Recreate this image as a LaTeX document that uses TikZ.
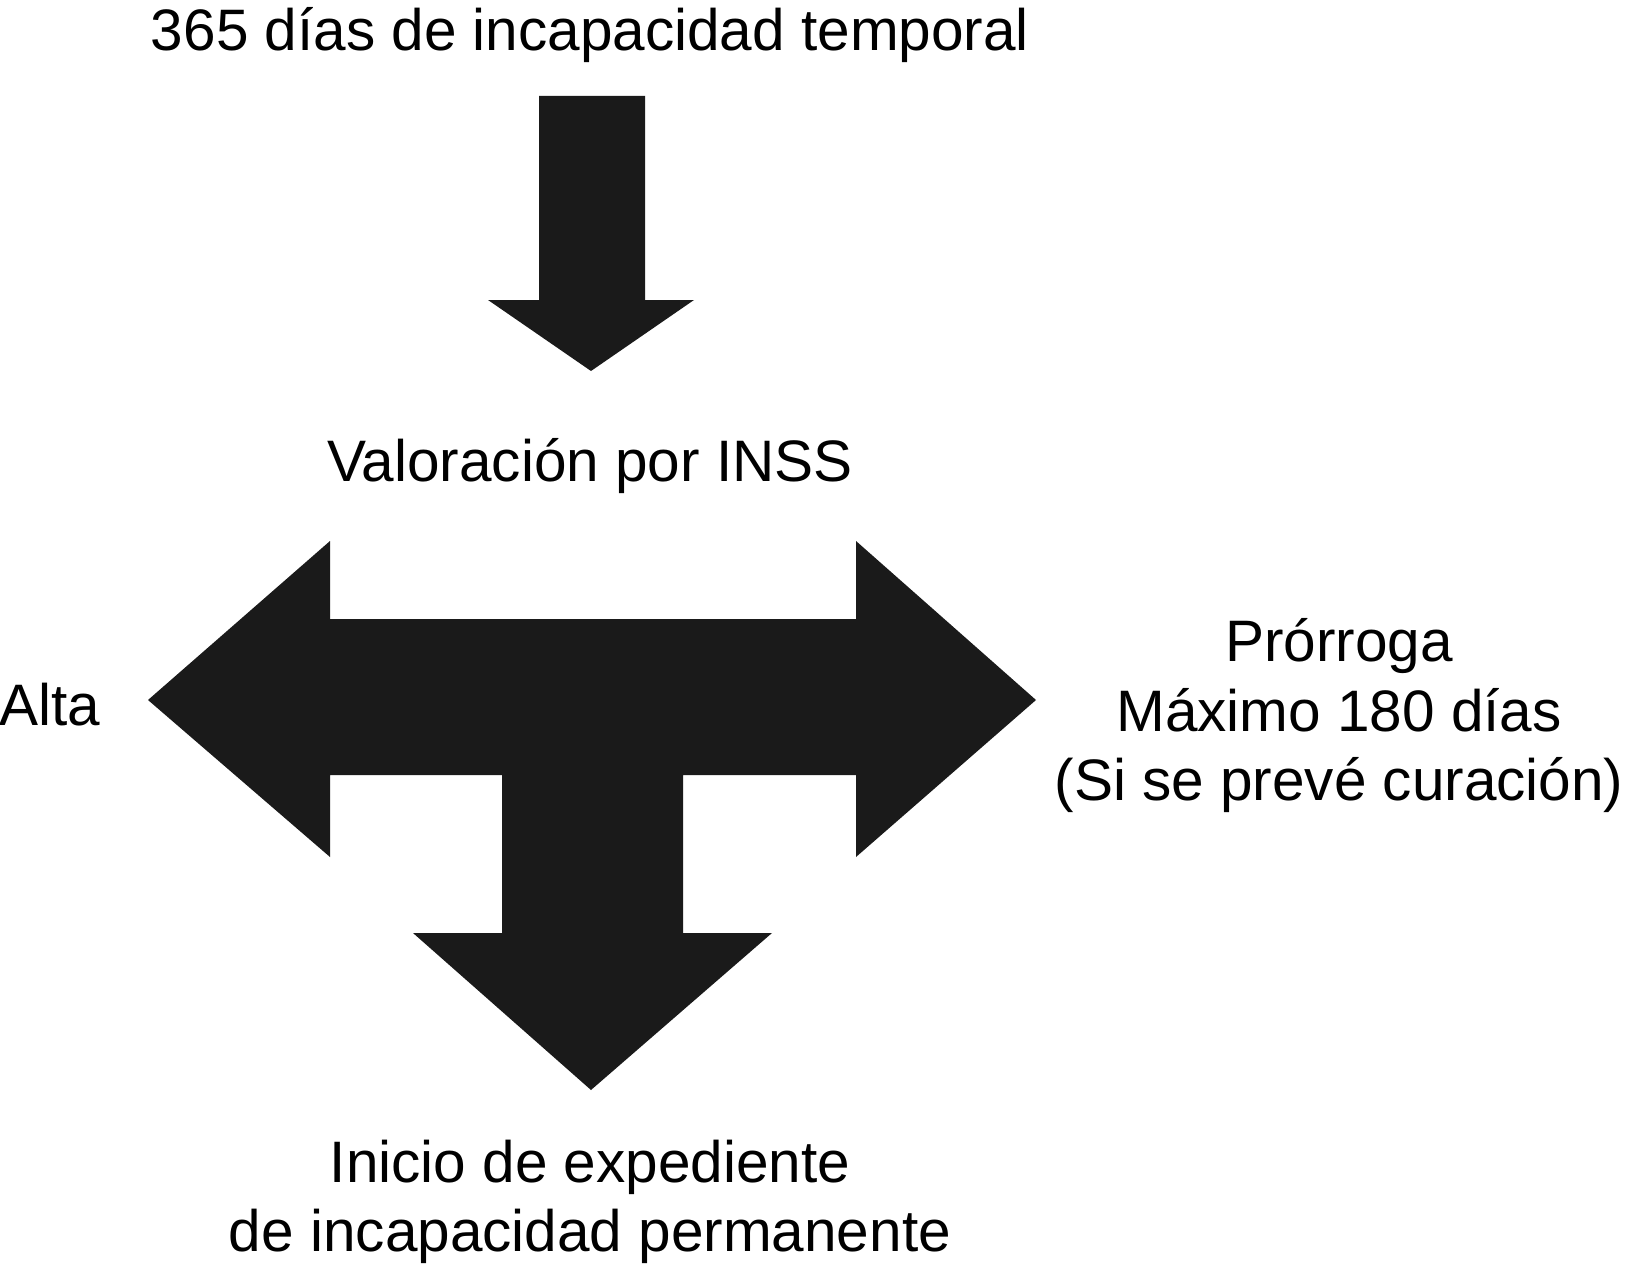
\documentclass[tikz,border=0pt]{standalone}
\usepackage{fontspec}
\setmainfont{Liberation Sans}
\definecolor{arrowfill}{HTML}{1A1A1A}
\begin{document}
\begin{tikzpicture}[x=1pt,y=-1pt,
  lbl/.style={inner sep=0pt,outer sep=0pt,anchor=base,font=\fontsize{58.5}{70}\selectfont,text=black},
  bigarrow/.style={fill=arrowfill,draw=none}]
\useasboundingbox (0,0) rectangle (1625,1271);
% top arrow
\fill[bigarrow] (539,96) -- (645,96) -- (645,300) -- (694,300) -- (591,371) -- (488,300) -- (539,300) -- cycle;
% T-shaped triple arrow
\fill[bigarrow] (148,700) -- (330,541) -- (330,619) -- (856,619) -- (856,541) -- (1036,700)
  -- (856,857) -- (856,775) -- (683,775) -- (683,933) -- (772,933) -- (591,1090)
  -- (413,933) -- (502,933) -- (502,775) -- (330,775) -- (330,857) -- cycle;
% texts
\node[lbl] (top) at (590,51) {365 días de incapacidad temporal};
\node[lbl] (val) at (590,481) {Valoración por INSS};
\node[lbl,anchor=base west] (alta) at (-1,725) {Alta};
\node[lbl] (pro1) at (1339,661) {Prórroga};
\node[lbl] (pro2) at (1339,731) {Máximo 180 días};
\node[lbl] (pro3) at (1339,800) {(Si se prevé curación)};
\node[lbl] (ini1) at (590,1182) {Inicio de expediente};
\node[lbl] (ini2) at (590,1251) {de incapacidad permanente};
\end{tikzpicture}
\end{document}
